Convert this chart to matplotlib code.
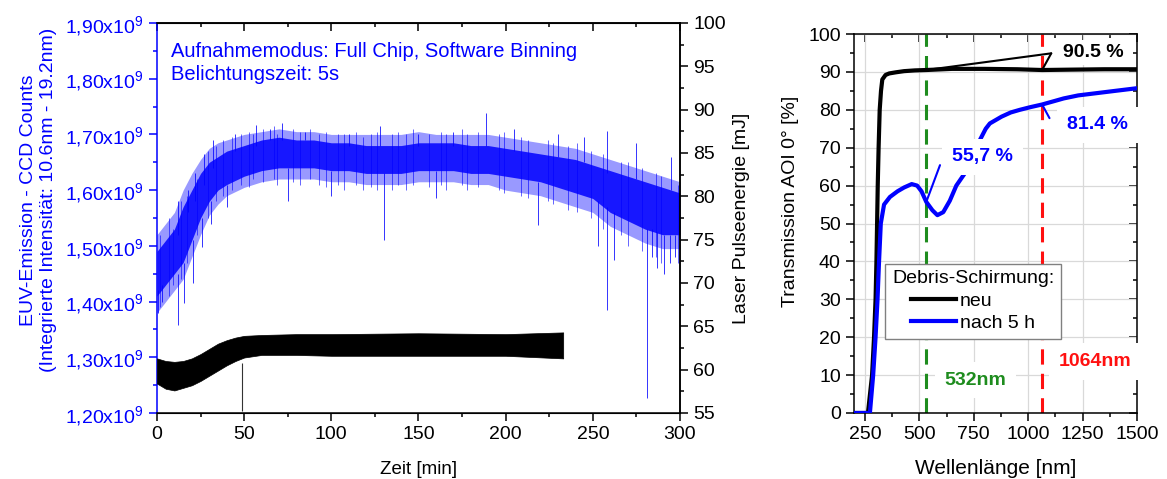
import matplotlib.pyplot as plt
from matplotlib.ticker import MultipleLocator, FuncFormatter

plt.rcParams['font.family'] = ['Liberation Sans', 'DejaVu Sans']
plt.rcParams['mathtext.fontset'] = 'custom'
plt.rcParams['mathtext.rm'] = 'Liberation Sans'
plt.rcParams['mathtext.it'] = 'Liberation Sans:italic'
plt.rcParams['mathtext.bf'] = 'Liberation Sans:bold'

BLUE = '#0000ff'
GREEN = '#1e8c1e'
RED = '#ff1010'

# EUV emission over time, counts in units of 1e9 (core band and outer noise band)
euv_t = [0, 5, 10, 15, 20, 25, 30, 35, 40, 50, 60, 70, 80, 90, 100, 110, 120, 130, 140,
         150, 160, 170, 180, 190, 200, 210, 220, 230, 240, 250, 260, 270, 280, 290, 300]
euv_hi = [1.49, 1.51, 1.53, 1.57, 1.60, 1.63, 1.65, 1.66, 1.67, 1.68, 1.69, 1.695, 1.69, 1.69,
          1.685, 1.685, 1.68, 1.68, 1.68, 1.685, 1.685, 1.685, 1.68, 1.68, 1.675, 1.67, 1.665,
          1.66, 1.655, 1.645, 1.635, 1.625, 1.615, 1.605, 1.595]
euv_lo = [1.41, 1.43, 1.45, 1.47, 1.51, 1.55, 1.58, 1.60, 1.61, 1.625, 1.635, 1.64, 1.64, 1.64,
          1.635, 1.635, 1.63, 1.63, 1.63, 1.635, 1.635, 1.635, 1.63, 1.63, 1.625, 1.62, 1.615,
          1.605, 1.595, 1.585, 1.56, 1.545, 1.53, 1.52, 1.52]
euv_max = [1.52, 1.54, 1.56, 1.60, 1.63, 1.655, 1.675, 1.685, 1.69, 1.70, 1.705, 1.71, 1.705,
           1.705, 1.70, 1.70, 1.70, 1.70, 1.70, 1.705, 1.70, 1.70, 1.70, 1.70, 1.695, 1.69,
           1.685, 1.68, 1.675, 1.665, 1.655, 1.645, 1.635, 1.625, 1.615]
euv_min = [1.38, 1.40, 1.42, 1.44, 1.48, 1.52, 1.555, 1.575, 1.59, 1.605, 1.615, 1.62, 1.62,
           1.62, 1.615, 1.615, 1.61, 1.61, 1.61, 1.615, 1.615, 1.615, 1.61, 1.61, 1.60, 1.595,
           1.59, 1.58, 1.57, 1.56, 1.535, 1.52, 1.505, 1.495, 1.495]

# short excursions across the band: time, lowest and highest value
jit_t = [2, 7, 9, 14, 17, 23, 29, 34, 38, 43, 48, 53, 55, 61, 67, 69, 78, 82, 88, 93, 97, 104,
         107, 114, 118, 123, 126, 135, 138, 143, 147, 156, 163, 166, 175, 178, 184, 196, 199,
         209, 213, 224, 227, 236, 241, 249, 256, 266, 270, 278, 286, 289, 299]
jit_lo = [1.39, 1.41, 1.43, 1.44, 1.47, 1.52, 1.55, 1.58, 1.59, 1.60, 1.61, 1.605, 1.62, 1.615,
          1.62, 1.61, 1.615, 1.61, 1.62, 1.61, 1.605, 1.61, 1.60, 1.61, 1.60, 1.605, 1.60, 1.60,
          1.61, 1.60, 1.61, 1.605, 1.61, 1.60, 1.61, 1.60, 1.605, 1.60, 1.595, 1.59, 1.585, 1.58,
          1.575, 1.565, 1.56, 1.55, 1.53, 1.52, 1.50, 1.49, 1.48, 1.47, 1.47]
jit_hi = [1.52, 1.55, 1.53, 1.58, 1.59, 1.62, 1.67, 1.68, 1.69, 1.695, 1.70, 1.705, 1.70, 1.71,
          1.715, 1.70, 1.71, 1.705, 1.71, 1.70, 1.705, 1.70, 1.70, 1.705, 1.695, 1.70, 1.705,
          1.70, 1.705, 1.70, 1.71, 1.70, 1.705, 1.70, 1.71, 1.70, 1.705, 1.70, 1.705, 1.695,
          1.69, 1.69, 1.685, 1.68, 1.685, 1.67, 1.665, 1.65, 1.65, 1.64, 1.63, 1.625, 1.61]

# single outliers: time, start and end value
up_t = [12, 18, 22, 27, 32, 45, 57, 65, 72, 85, 110, 128, 150, 170, 189, 205, 230, 245, 258, 275, 295]
up_from = [1.52, 1.56, 1.58, 1.61, 1.64, 1.67, 1.68, 1.69, 1.69, 1.69, 1.68, 1.68, 1.68, 1.68,
           1.68, 1.67, 1.66, 1.65, 1.63, 1.62, 1.60]
up_to = [1.58, 1.60, 1.63, 1.665, 1.69, 1.70, 1.717, 1.71, 1.72, 1.705, 1.70, 1.715, 1.70, 1.705,
         1.738, 1.71, 1.70, 1.695, 1.706, 1.685, 1.66]
dn_t = [0.5, 3, 12, 15.5, 20.5, 26, 31, 40, 75, 100, 130, 160, 218.6, 253, 258, 262, 281,
        284, 287, 291, 294, 297]
dn_from = [1.42, 1.43, 1.45, 1.47, 1.51, 1.55, 1.58, 1.61, 1.64, 1.635, 1.63, 1.635, 1.615,
           1.58, 1.57, 1.56, 1.53, 1.53, 1.525, 1.52, 1.52, 1.52]
dn_to = [1.38, 1.40, 1.358, 1.397, 1.433, 1.498, 1.54, 1.57, 1.58, 1.59, 1.51, 1.585, 1.537,
         1.50, 1.385, 1.475, 1.227, 1.48, 1.46, 1.45, 1.47, 1.48]

# laser pulse energy in mJ
las_t = [0, 5, 10, 15, 20, 25, 30, 35, 40, 45, 50, 60, 80, 100, 150, 200, 233]
las_hi = [61.3, 61.0, 60.9, 61.0, 61.3, 61.8, 62.4, 63.0, 63.4, 63.7, 63.9, 64.0, 64.1, 64.1, 64.2, 64.1, 64.3]
las_lo = [58.4, 57.8, 57.6, 57.9, 58.2, 58.7, 59.3, 59.9, 60.5, 61.0, 61.4, 61.7, 61.7, 61.6, 61.6, 61.6, 61.3]
las_drop_t = [49]
las_drop_from = [60.8]
las_drop_to = [55.2]

# transmission spectra of the debris shield
wl_neu = [200, 264, 283, 292, 299, 303, 306, 309, 313, 318, 324, 330, 345, 362, 393, 430,
          480, 532, 650, 800, 950, 1064, 1200, 1350, 1500]
tr_neu = [0, 0, 10, 20, 30, 40, 50, 60, 70, 80, 85, 88, 89.2, 89.6, 89.9, 90.2,
          90.4, 90.5, 90.8, 90.8, 90.7, 90.5, 90.6, 90.7, 90.7]
wl_5h = [200, 273, 288, 299, 308, 315, 323, 338, 365, 400, 430, 465, 490, 510, 532, 560, 583,
         610, 640, 670, 718, 748, 778, 805, 824, 878, 920, 962, 1010, 1064, 1120, 1163, 1230,
         1315, 1400, 1500]
tr_5h = [0, 0, 10, 20, 30, 40, 50, 55, 57, 58.5, 59.5, 60.4, 60.0, 58.5, 55.7, 53.5, 52.2,
         53.0, 56.0, 60.0, 64.0, 68.0, 72.0, 75.0, 76.4, 78.2, 79.3, 80.0, 80.7, 81.4, 82.3,
         83.0, 83.8, 84.4, 85.0, 85.7]

laser_lines = [532, 1064]
neu_at = [90.5, 90.5]
nach5_at = [55.7, 81.4]

FS = 14


def style_ticks(ax, **kw):
    ax.tick_params(which='both', width=1.1, **kw)
    ax.tick_params(which='major', length=6)
    ax.tick_params(which='minor', length=3)


fig = plt.figure(figsize=(11.67, 4.79), dpi=100)

# ---------------- left: EUV emission and laser energy over time
ax1 = fig.add_axes([0.1345, 0.1378, 0.4482, 0.8142])
ax1.fill_between(euv_t, euv_min, euv_max, color=BLUE, alpha=0.4, lw=0)
ax1.fill_between(euv_t, euv_lo, euv_hi, color=BLUE, alpha=0.85, lw=0)
ax1.vlines(jit_t, jit_lo, jit_hi, color=BLUE, lw=0.6, alpha=0.7)
ax1.vlines(up_t, up_from, up_to, color=BLUE, lw=0.7, alpha=0.8)
ax1.vlines(dn_t, dn_from, dn_to, color=BLUE, lw=0.7, alpha=0.8)

ax1.set_xlim(0, 300)
ax1.set_ylim(1.2, 1.9)
ax1.xaxis.set_major_locator(MultipleLocator(50))
ax1.xaxis.set_minor_locator(MultipleLocator(25))
ax1.yaxis.set_major_locator(MultipleLocator(0.1))
ax1.yaxis.set_minor_locator(MultipleLocator(0.05))
ax1.yaxis.set_major_formatter(FuncFormatter(lambda v, p: f"{v:.2f}".replace('.', ',') + r"x10$^9$"))
style_ticks(ax1, direction='out', labelsize=FS)
ax1.tick_params(axis='y', which='both', colors=BLUE)
for s in ax1.spines.values():
    s.set_linewidth(1.1)
ax1.spines['left'].set_color(BLUE)
ax1.set_xlabel('Zeit [min]', fontsize=13.5)
ax1.xaxis.set_label_coords(0.5, -0.122)
ax1.set_ylabel('EUV-Emission - CCD Counts\n(Integrierte Intensität: 10.6nm - 19.2nm)',
               color=BLUE, fontsize=FS)
ax1.yaxis.set_label_coords(-0.191, 0.546)
ax1.text(0.027, 0.952, 'Aufnahmemodus: Full Chip, Software Binning\nBelichtungszeit: 5s',
         transform=ax1.transAxes, va='top', ha='left', color=BLUE, fontsize=14.5, linespacing=1.3)

top1 = ax1.secondary_xaxis('top')
top1.xaxis.set_major_locator(MultipleLocator(50))
top1.xaxis.set_minor_locator(MultipleLocator(25))
style_ticks(top1, direction='in', labeltop=False)
top1.spines['top'].set_linewidth(1.1)

ax2 = ax1.twinx()
ax2.fill_between(las_t, las_lo, las_hi, color='k', lw=0.5)
ax2.vlines(las_drop_t, las_drop_from, las_drop_to, color='#333333', lw=0.8)
ax2.set_ylim(55, 100)
ax2.yaxis.set_major_locator(MultipleLocator(5))
ax2.yaxis.set_minor_locator(MultipleLocator(2.5))
style_ticks(ax2, direction='out', labelsize=FS)
ax2.spines['left'].set_visible(False)
ax2.spines['right'].set_linewidth(1.1)
ax2.set_ylabel('Laser Pulseenergie [mJ]', fontsize=FS, labelpad=5)

# ---------------- right: transmission spectra
ax3 = fig.add_axes([0.7318, 0.1378, 0.2425, 0.7912])
ax3.grid(which='major', color='#d9d9d9', lw=0.9)
ax3.set_axisbelow(True)
for wl, col in zip(laser_lines, [GREEN, RED]):
    ax3.axvline(wl, color=col, lw=2.2, dashes=(5, 3), zorder=2)
ax3.plot(wl_neu, tr_neu, color='k', lw=3, label='neu', zorder=3)
ax3.plot(wl_5h, tr_5h, color=BLUE, lw=3, label='nach 5 h', zorder=3)

ax3.set_xlim(200, 1500)
ax3.set_ylim(0, 100)
ax3.xaxis.set_major_locator(MultipleLocator(250))
ax3.xaxis.set_minor_locator(MultipleLocator(125))
ax3.yaxis.set_major_locator(MultipleLocator(10))
ax3.yaxis.set_minor_locator(MultipleLocator(5))
style_ticks(ax3, direction='out', labelsize=FS)
for s in ax3.spines.values():
    s.set_linewidth(1.1)
ax3.set_xlabel('Wellenlänge [nm]', fontsize=15)
ax3.xaxis.set_label_coords(0.502, -0.122)
ax3.set_ylabel('Transmission AOI 0° [%]', fontsize=FS)
ax3.yaxis.set_label_coords(-0.195, 0.559)

top3 = ax3.secondary_xaxis('top')
top3.xaxis.set_major_locator(MultipleLocator(250))
top3.xaxis.set_minor_locator(MultipleLocator(125))
style_ticks(top3, direction='in', labeltop=False)
right3 = ax3.secondary_yaxis('right')
right3.yaxis.set_major_locator(MultipleLocator(10))
right3.yaxis.set_minor_locator(MultipleLocator(5))
style_ticks(right3, direction='in', labelright=False)
for sec in (top3, right3):
    for s in sec.spines.values():
        s.set_visible(False)

leg = ax3.legend(title='Debris-Schirmung:', loc='lower left', bbox_to_anchor=(0.11, 0.195),
                 fontsize=FS, title_fontsize=FS, fancybox=False, edgecolor='#808080',
                 framealpha=1, handlelength=2.3, handletextpad=0.2, borderpad=0.35,
                 labelspacing=0.25, borderaxespad=0)
leg.get_frame().set_linewidth(1.0)
leg.set_zorder(6)

# value callouts
box = dict(facecolor='white', edgecolor='none', pad=7)
small_box = dict(facecolor='white', edgecolor='none', pad=3)
lead = dict(arrowstyle='-', lw=1.5, shrinkA=0, shrinkB=0)
for wl, v in zip(laser_lines, neu_at):
    ax3.annotate('', xy=(wl, v), xytext=(1106, 94.9), arrowprops=dict(lead, color='k'), zorder=7)
ax3.text(1297, 95.2, f'{neu_at[1]} %', ha='center', va='center', fontsize=FS,
         fontweight='bold', color='k', bbox=small_box, zorder=8)
ax3.annotate('', xy=(laser_lines[0], nach5_at[0]), xytext=(595, 65.4),
             arrowprops=dict(lead, color=BLUE), zorder=7)
ax3.text(790, 67.6, f'{nach5_at[0]} %'.replace('.', ','), ha='center', va='center', fontsize=FS,
         fontweight='bold', color=BLUE, bbox=box, zorder=8)
ax3.annotate('', xy=(laser_lines[1], nach5_at[1]), xytext=(1098, 77.8),
             arrowprops=dict(lead, color=BLUE), zorder=7)
ax3.text(1319, 76.0, f'{nach5_at[1]} %', ha='center', va='center', fontsize=FS,
         fontweight='bold', color=BLUE, bbox=box, zorder=8, clip_on=False)
ax3.text(757, 8.7, f'{laser_lines[0]}nm', ha='center', va='center', fontsize=FS,
         fontweight='bold', color=GREEN, bbox=box, zorder=8)
ax3.text(1306, 13.6, f'{laser_lines[1]}nm', ha='center', va='center', fontsize=FS,
         fontweight='bold', color=RED, bbox=box, zorder=8, clip_on=False)

fig.savefig('out.png', dpi=100)
